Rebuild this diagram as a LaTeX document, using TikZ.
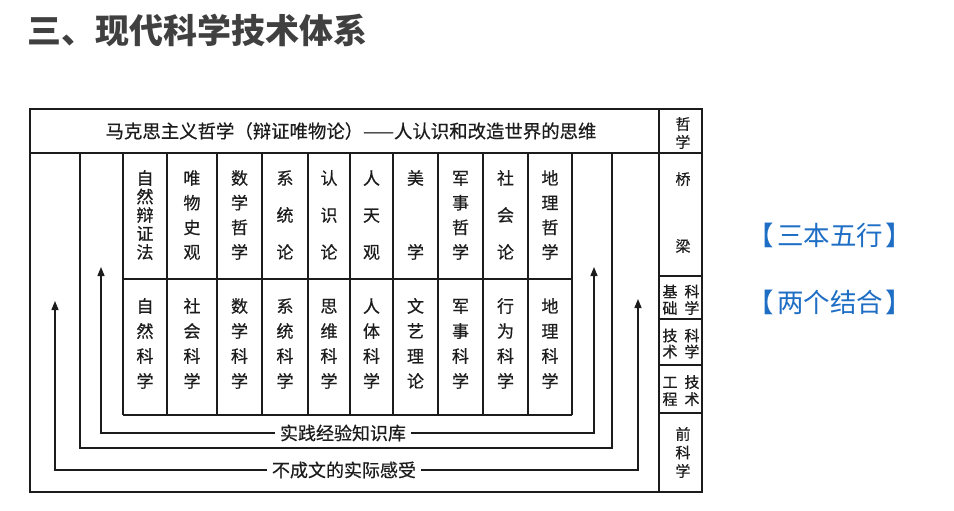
\documentclass[tikz,border=0pt]{standalone}
\usepackage{fontspec}
\setmainfont{Noto Sans CJK SC}
\usepackage{tikz}
\usetikzlibrary{arrows.meta,calc,positioning}
\definecolor{Ink}{HTML}{1C1C1C}
\definecolor{TitleGrey}{HTML}{404040}
\definecolor{LinkBlue}{HTML}{1D6EC4}
\tikzset{
  frame/.style={draw=Ink,line width=1.3pt},
  cell/.style={font=\fontsize{17}{17}\selectfont\addfontfeature{FakeBold=0.6},text=Ink,inner sep=0pt,text height=13pt,text depth=2pt},
  side/.style={font=\fontsize{15}{15}\selectfont\addfontfeature{FakeBold=0.6},text=Ink,inner sep=0pt,text height=11.5pt,text depth=2pt},
  feed/.style={font=\fontsize{18}{18}\selectfont\addfontfeature{FakeBold=0.6},text=Ink,inner sep=5pt},
  up/.style={draw=Ink,line width=1.3pt,-{Triangle[length=9pt,width=7pt]}},
  note/.style={font=\fontsize{26.5}{26.5}\selectfont,text=LinkBlue,inner sep=0pt},
}
% #1 column, #2 x, #3 number of chars, #4 chars
\newcommand{\upperword}[4]{%
  \foreach \ch [count=\i from 0] in {#4}{
    \node[cell] (up#1-\i) at (#2,{179+\i*74/(#3-1)}) {\ch};
  }
}
\newcommand{\lowerword}[3]{%
  \foreach \ch [count=\i from 0] in {#3}{
    \node[cell] (lo#1-\i) at (#2,{307+\i*25}) {\ch};
  }
}
% #1 name, #2 x, #3 first y, #4 pitch, #5 chars
\newcommand{\sideword}[5]{%
  \foreach \ch [count=\i from 0] in {#5}{
    \node[side] (#1-\i) at (#2,{#3+\i*#4}) {\ch};
  }
}

\begin{document}
\begin{tikzpicture}[x=1pt,y=-1pt]
  \useasboundingbox (0,0) rectangle (954,511);
  \node[anchor=west,font=\fontsize{34}{34}\selectfont\bfseries,text=TitleGrey,inner sep=0pt] (title) at (27,30) {三、现代科学技术体系};

  \draw[frame] (30,109) rectangle (702,492);
  \draw[frame] (30,153) -- (702,153);
  \draw[frame] (659,109) -- (659,492);
  \foreach \y in {276,319,365,413}{\draw[frame] (659,\y) -- (702,\y);}
  \draw[frame] (80,153) -- (80,448) -- (612,448) -- (612,153);

  \node[font=\fontsize{18.4}{18.4}\selectfont\addfontfeature{FakeBold=0.6},text=Ink,inner sep=0pt] (head) at (351,131) {马克思主义哲学（辩证唯物论）——人认识和改造世界的思维};

  % table of ten branches
  \foreach \x in {123,167,217,262,308,350,393,438,483,528,572}{\draw[frame] (\x,153) -- (\x,415);}
  \draw[frame] (123,279) -- (572,279);
  \draw[frame] (123,415) -- (572,415);

  \upperword{1}{145}{5}{自,然,辩,证,法}
  \upperword{2}{192}{4}{唯,物,史,观}
  \upperword{3}{239.5}{4}{数,学,哲,学}
  \upperword{4}{285}{3}{系,统,论}
  \upperword{5}{329}{3}{认,识,论}
  \upperword{6}{371.5}{3}{人,天,观}
  \upperword{7}{415.5}{2}{美,学}
  \upperword{8}{460.5}{4}{军,事,哲,学}
  \upperword{9}{505.5}{3}{社,会,论}
  \upperword{10}{550}{4}{地,理,哲,学}

  \lowerword{1}{145}{自,然,科,学}
  \lowerword{2}{192}{社,会,科,学}
  \lowerword{3}{239.5}{数,学,科,学}
  \lowerword{4}{285}{系,统,科,学}
  \lowerword{5}{329}{思,维,科,学}
  \lowerword{6}{371.5}{人,体,科,学}
  \lowerword{7}{415.5}{文,艺,理,论}
  \lowerword{8}{460.5}{军,事,科,学}
  \lowerword{9}{505.5}{行,为,科,学}
  \lowerword{10}{550}{地,理,科,学}

  % right hand levels
  \sideword{phil}{683}{125}{18}{哲,学}
  \sideword{bridge}{683}{180}{67}{桥,梁}
  \sideword{basicA}{670}{292.5}{16.5}{基,础}
  \sideword{basicB}{692}{292.5}{16.5}{科,学}
  \sideword{techA}{670}{336.5}{16}{技,术}
  \sideword{techB}{692}{336.5}{16}{科,学}
  \sideword{engA}{670}{383}{17}{工,程}
  \sideword{engB}{692}{383}{17}{技,术}
  \sideword{pre}{683}{435}{18.5}{前,科,学}

  % feedback arrows
  \node[feed] (practice) at (343,433) {实践经验知识库};
  \node[feed] (tacit) at (344,470) {不成文的实际感受};
  \coordinate (pL) at (101,267);
  \coordinate (pR) at (594,267);
  \coordinate (tL) at (55,301);
  \coordinate (tR) at (638,299);
  \draw[up] (practice.west) -| (pL);
  \draw[up] (practice.east) -| (pR);
  \draw[up] (tacit.west) -| (tL);
  \draw[up] (tacit.east) -| (tR);

  \node[note] (three) at (830,235) {【\kern3pt三本五行\kern3pt】};
  \node[note] (two) at (830,302) {【\kern3pt两个结合\kern3pt】};
\end{tikzpicture}
\end{document}
